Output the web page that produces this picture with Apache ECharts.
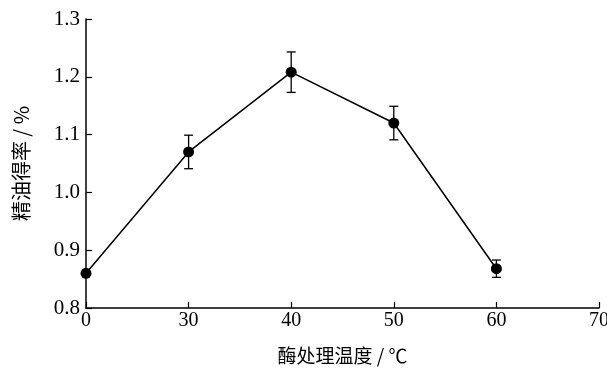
<!DOCTYPE html>
<html><head><meta charset="utf-8">
<script src="https://cdn.jsdelivr.net/npm/echarts@6/dist/echarts.min.js"></script>
<style>html,body{margin:0;padding:0;background:#fff}#c{width:607px;height:369px}</style>
</head><body><div id="c"></div>
<script>
var categories = ['0','30','40','50','60','70'];
var yieldValues = [0.86, 1.07, 1.208, 1.12, 0.868];
var errorValues = [0, 0.029, 0.035, 0.029, 0.015];
var yTicks = [0.8, 0.9, 1.0, 1.1, 1.2, 1.3];

var serif = 'Liberation Serif';
var cjk = 'Noto Sans CJK SC';
var chart = echarts.init(document.getElementById('c'));
var errData = yieldValues.map(function(v,i){return [i, v - errorValues[i], v + errorValues[i]];}).filter(function(d,i){return errorValues[i]>0;});
chart.setOption({
  animation:false,
  backgroundColor:'#fff',
  grid:{left:86,right:8,top:19,bottom:61,containLabel:false,outerBoundsMode:'none'},
  xAxis:{type:'category',data:categories,boundaryGap:false,
    name:'酶处理温度 / ℃',nameLocation:'middle',nameGap:38,
    nameTextStyle:{fontFamily:cjk,fontSize:19,color:'#000'},
    axisLine:{lineStyle:{color:'#000',width:1.5}},
    axisTick:{inside:true,length:6,lineStyle:{color:'#000',width:1.2}},
    axisLabel:{fontFamily:serif,fontSize:20,color:'#000',margin:3},
    splitLine:{show:false}},
  yAxis:{type:'value',min:yTicks[0],max:yTicks[yTicks.length-1],interval:0.1,
    name:'精油得率 / %',nameLocation:'middle',nameGap:55,
    nameTextStyle:{fontFamily:cjk,fontSize:20,color:'#000'},
    axisLine:{show:true,lineStyle:{color:'#000',width:1.5}},
    axisTick:{show:true,inside:true,length:6,lineStyle:{color:'#000',width:1.2}},
    axisLabel:{fontFamily:serif,fontSize:21,color:'#000',margin:6,formatter:function(v){return v.toFixed(1);}},
    splitLine:{show:false}},
  series:[
    {type:'line',data:yieldValues,symbol:'circle',symbolSize:11,
     lineStyle:{color:'#000',width:1.5},itemStyle:{color:'#000'},z:3},
    {type:'custom',data:errData,z:2,
     renderItem:function(params,api){
       var x=api.value(0),lo=api.coord([x,api.value(1)]),hi=api.coord([x,api.value(2)]);
       var w=4.5;
       var st={stroke:'#000',lineWidth:1.3};
       return {type:'group',children:[
         {type:'line',shape:{x1:lo[0],y1:lo[1],x2:hi[0],y2:hi[1]},style:st},
         {type:'line',shape:{x1:lo[0]-w,y1:lo[1],x2:lo[0]+w,y2:lo[1]},style:st},
         {type:'line',shape:{x1:hi[0]-w,y1:hi[1],x2:hi[0]+w,y2:hi[1]},style:st}
       ]};
     }}
  ]
});
</script></body></html>
